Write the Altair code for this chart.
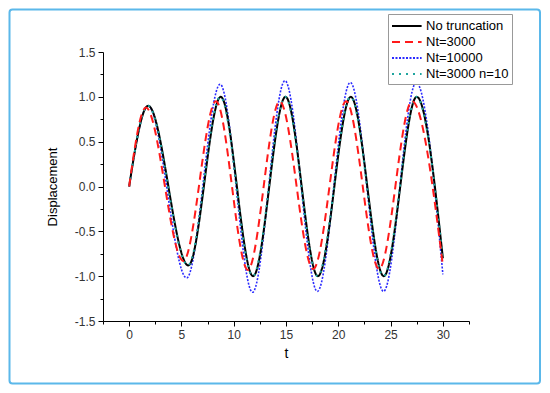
import altair as alt
import pandas as pd

# ---- data (extrema of each curve) ----
series_names = ["No truncation", "Nt=3000", "Nt=10000", "Nt=3000 n=10"]
series_colors = ["#000000", "#ff1a1a", "#2b2bff", "#1fa59f"]

t_no_trunc = [0, 1.82, 5.66, 8.76, 11.85, 14.95, 18.05, 21.2, 24.35, 27.5, 30]
v_no_trunc = [0, 0.90, -0.88, 1.00, -1.00, 1.00, -1.00, 1.00, -1.00, 1.00, -0.80]

t_nt3000 = [0, 1.6, 5.18, 8.3, 11.35, 14.4, 17.6, 20.75, 23.9, 27.05, 30]
v_nt3000 = [0, 0.88, -0.83, 0.95, -0.93, 0.95, -0.92, 0.95, -0.92, 0.95, -0.88]

t_nt10000 = [0, 1.82, 5.5, 8.7, 11.8, 14.9, 18.0, 21.15, 24.33, 27.45, 30]
v_nt10000 = [0, 0.90, -1.02, 1.14, -1.18, 1.18, -1.17, 1.16, -1.17, 1.16, -0.98]

t_nt3000_n10 = [0, 1.8, 5.62, 8.72, 11.82, 14.92, 18.02, 21.17, 24.32, 27.47, 30]
v_nt3000_n10 = [0, 0.90, -0.88, 1.00, -1.00, 1.00, -1.00, 1.00, -1.00, 1.00, -0.81]

x_major_ticks = [0, 5, 10, 15, 20, 25, 30]
x_minor_ticks = [-2.5, 2.5, 7.5, 12.5, 17.5, 22.5, 27.5, 32.5]
y_major_ticks = [-1.5, -1.0, -0.5, 0.0, 0.5, 1.0, 1.5]
y_minor_ticks = [-1.25, -0.75, -0.25, 0.25, 0.75, 1.25]

# ---- build table ----
rows = []
for name, ts, vs in [
    (series_names[0], t_no_trunc, v_no_trunc),
    (series_names[1], t_nt3000, v_nt3000),
    (series_names[2], t_nt10000, v_nt10000),
    (series_names[3], t_nt3000_n10, v_nt3000_n10),
]:
    for t, v in zip(ts, vs):
        rows.append({"t": t, "value": v, "series": name})
df = pd.DataFrame(rows)

FONT = "Liberation Sans"
dashes = [[1, 0], [8, 5], [2, 1.5], [2, 5]]
widths = {series_names[0]: 2.0, series_names[1]: 2.0, series_names[2]: 1.6, series_names[3]: 2.0}

x_scale = alt.Scale(domain=[-2.5, 32.5], nice=False, zero=False)
y_scale = alt.Scale(domain=[-1.5, 1.5], nice=False, zero=False)

x_major = alt.Axis(values=x_major_ticks, title="t", orient="bottom", tickSize=5,
                   labelFontSize=12, labelColor="#333333", titleFontSize=14,
                   titleFontWeight="normal", titlePadding=6, labelPadding=3)
y_major = alt.Axis(values=y_major_ticks, title="Displacement", orient="left", tickSize=5,
                   labelExpr="replace(format(datum.value, '.1f'), '\u2212', '-')",
                   labelFontSize=12, labelColor="#333333", titleFontSize=13,
                   titleFontWeight="normal", titlePadding=15, labelPadding=3)
x_minor = alt.Axis(values=x_minor_ticks, title=None, orient="bottom", tickSize=3,
                   labels=False, domain=False)
y_minor = alt.Axis(values=y_minor_ticks, title=None, orient="left", tickSize=3,
                   labels=False, domain=False)

legend_kw = dict(orient="none", legendX=285, legendY=-38, title=None,
                 symbolType="M-1,0H2.7", symbolSize=256, symbolStrokeWidth=2,
                 labelFontSize=13, labelFont=FONT, labelColor="#000000",
                 strokeColor="#999999", fillColor="white", padding=3,
                 rowPadding=0, labelOffset=17)

color = alt.Color("series:N", scale=alt.Scale(domain=series_names, range=series_colors),
                  legend=alt.Legend(**legend_kw))
dash = alt.StrokeDash("series:N", scale=alt.Scale(domain=series_names, range=dashes),
                      legend=alt.Legend(**legend_kw))

def line_layer(name):
    return alt.Chart(df).transform_filter(alt.datum.series == name).mark_line(
        interpolate="monotone", strokeWidth=widths[name]
    ).encode(
        x=alt.X("t:Q", scale=x_scale, axis=x_major),
        y=alt.Y("value:Q", scale=y_scale, axis=y_major),
        color=color,
        strokeDash=dash,
        order=alt.Order("t:Q"),
    )

lines = alt.layer(*[line_layer(n) for n in [series_names[2], series_names[0], series_names[3], series_names[1]]])

minor = alt.Chart(df).mark_line(opacity=0).encode(
    x=alt.X("t:Q", scale=x_scale, axis=x_minor),
    y=alt.Y("value:Q", scale=y_scale, axis=y_minor),
)

border = alt.Chart(alt.Data(values=[{}])).mark_rect(
    fillOpacity=0, stroke="#5bb8ea", strokeWidth=2, cornerRadius=3
).encode(
    x=alt.value(-93.5), x2=alt.value(437), y=alt.value(-42.5), y2=alt.value(331.5)
)

chart = alt.layer(border, lines, minor).resolve_axis(
    x="independent", y="independent"
).properties(
    width=366, height=269,
    autosize=alt.AutoSizeParams(type="none"),
    padding={"left": 95, "top": 44, "right": 72, "bottom": 64},
    background="white",
).configure_view(stroke=None).configure_axis(
    grid=False, domainColor="#000000", tickColor="#000000", domainWidth=1,
    tickWidth=1, labelFont=FONT, titleFont=FONT, titleColor="#000000"
)

chart.save("out.html", embed_options={"renderer": "svg", "actions": False})
